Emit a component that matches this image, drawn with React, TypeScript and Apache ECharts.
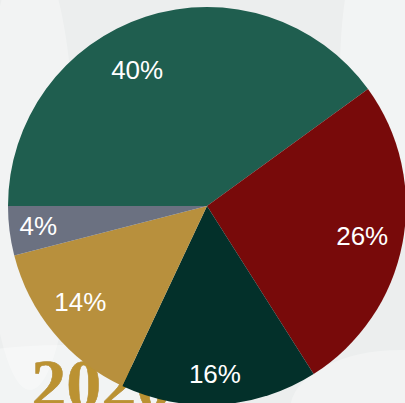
import React, { useEffect, useRef } from "react";
import * as echarts from "echarts";

const categories = ["A", "B", "C", "D", "E"];
const values = [40, 26, 16, 14, 4];
const colors = ["#1f5e4f", "#780a0a", "#03302a", "#b8903d", "#6b7181"];
const labelOffsets: [number, number][] = [[-21, 14], [0, 0], [-2, 10], [-5, -5], [-12, 0]];
const yearText = "2020";

export default function App() {
  const ref = useRef<HTMLDivElement>(null);
  useEffect(() => {
    if (!ref.current) return;
    const chart = echarts.init(ref.current, null, { renderer: "svg" });
    const data = categories.map((c, i) => ({ name: c, value: values[i], itemStyle: { color: colors[i] } }));
    const labelData = categories.map((c, i) => ({
      name: c,
      value: values[i],
      label: { offset: labelOffsets[i] },
    }));
    chart.setOption({
      animation: false,
      backgroundColor: "#eceeee",
      graphic: [
        { type: "ellipse", shape: { cx: 60, cy: 400, rx: 170, ry: 55 }, style: { fill: "rgba(255,255,255,0.35)" }, z: -10 },
        { type: "ellipse", shape: { cx: 395, cy: 70, rx: 55, ry: 170 }, style: { fill: "rgba(255,255,255,0.35)" }, z: -10 },
        { type: "ellipse", shape: { cx: 30, cy: 170, rx: 45, ry: 220 }, style: { fill: "rgba(255,255,255,0.3)" }, z: -10 },
        { type: "ellipse", shape: { cx: 400, cy: 410, rx: 110, ry: 60 }, style: { fill: "rgba(255,255,255,0.3)" }, z: -10 },
        {
          type: "text",
          left: 31,
          top: 349,
          z: -5,
          style: {
            text: yearText,
            font: "bold 70px 'Liberation Serif', serif",
            fill: "#bb9232",
            stroke: "#a37a22",
            lineWidth: 0.5,
          },
        },
      ],
      series: [
        {
          type: "pie",
          center: [207, 206],
          radius: [0, 199],
          startAngle: 180,
          clockwise: true,
          data,
          label: { show: false },
          labelLine: { show: false },
          itemStyle: { borderWidth: 0 },
          emphasis: { disabled: true },
        },
        {
          type: "pie",
          center: [207, 206],
          radius: [111, 199],
          startAngle: 180,
          clockwise: true,
          data: labelData,
          silent: true,
          itemStyle: { color: "rgba(0,0,0,0)", borderWidth: 0 },
          label: {
            show: true,
            position: "inside",
            formatter: (p: any) => p.value + "%",
            color: "#ffffff",
            fontSize: 26,
            fontFamily: "'Liberation Sans', Arial, sans-serif",
          },
          labelLine: { show: false },
          emphasis: { disabled: true },
        },
      ],
    });
    return () => chart.dispose();
  }, []);
  return <div ref={ref} style={{ position: "absolute", left: 0, top: 0, width: 405, height: 403 }} />;
}
